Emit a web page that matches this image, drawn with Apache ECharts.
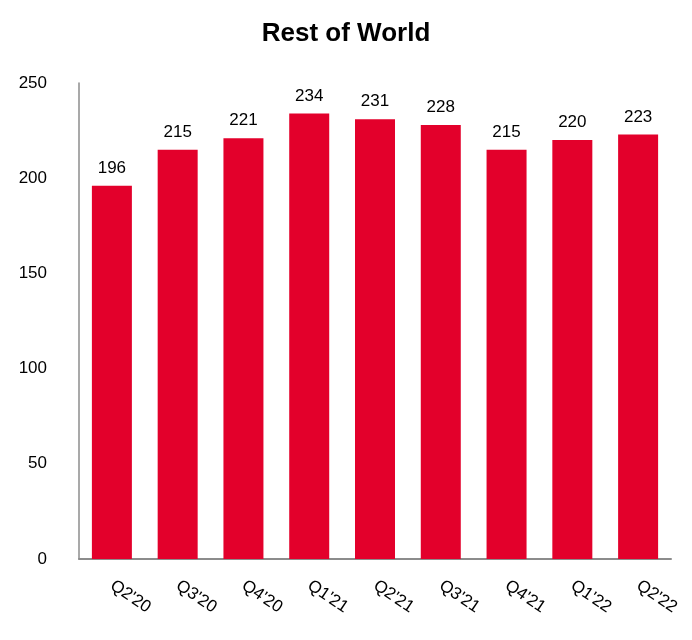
<!DOCTYPE html>
<html>
<head>
<meta charset="utf-8">
<script src="https://cdn.jsdelivr.net/npm/echarts@6/dist/echarts.min.js"></script>
<style>html,body{margin:0;padding:0;background:#fff;}#c{width:692px;height:640px;}</style>
</head>
<body>
<div id="c"></div>
<script>
const categories = ["Q2'20","Q3'20","Q4'20","Q1'21","Q2'21","Q3'21","Q4'21","Q1'22","Q2'22"];
const values = [196, 215, 221, 234, 231, 228, 215, 220, 223];
const yTicks = [0, 50, 100, 150, 200, 250];

const chart = echarts.init(document.getElementById('c'), null, {renderer: 'canvas'});
chart.setOption({
  animation: false,
  title: {
    text: 'Rest of World',
    left: 'center',
    top: 16,
    textStyle: {fontFamily: 'Liberation Sans, Arial', fontSize: 26, fontWeight: 'bold', color: '#000'}
  },
  grid: {left: 79, right: 21, top: 83, bottom: 81, containLabel: false},
  xAxis: {
    type: 'category',
    data: categories,
    axisLine: {show: true, lineStyle: {color: '#8c8c8c', width: 2}},
    axisTick: {show: false},
    axisLabel: {rotate: -34, margin: 25, fontFamily: 'Liberation Sans, Arial', fontSize: 17, color: '#000', interval: 0}
  },
  yAxis: {
    type: 'value',
    min: yTicks[0],
    max: yTicks[yTicks.length - 1],
    interval: 50,
    axisLine: {show: true, lineStyle: {color: '#8c8c8c', width: 1.5}},
    axisTick: {show: false},
    splitLine: {show: false},
    axisLabel: {margin: 32, padding: [8, 0, 0, 0], fontFamily: 'Liberation Sans, Arial', fontSize: 17, color: '#000'}
  },
  series: [{
    type: 'bar',
    data: values,
    barWidth: 40,
    itemStyle: {color: '#E3002B'},
    label: {show: true, position: 'top', distance: 9, fontFamily: 'Liberation Sans, Arial', fontSize: 17, color: '#000'}
  }]
});
</script>
</body>
</html>
